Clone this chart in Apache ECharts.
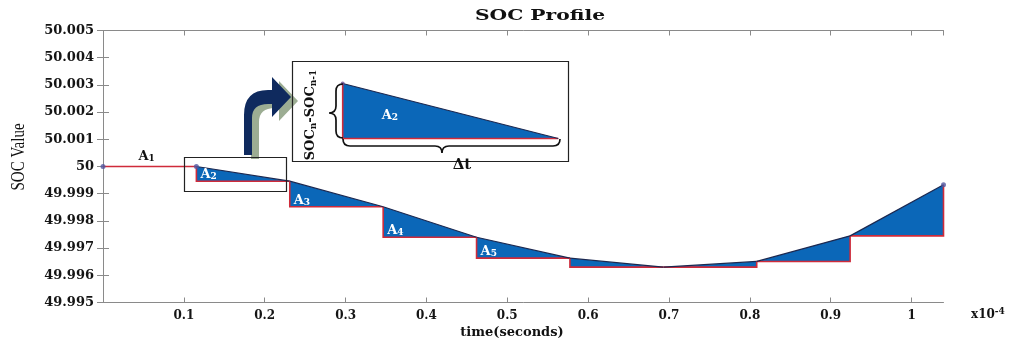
<!DOCTYPE html>
<html>
<head>
<meta charset="utf-8">
<script src="https://cdn.jsdelivr.net/npm/echarts@6/dist/echarts.min.js"></script>
<style>
  html, body { margin: 0; padding: 0; background: #ffffff; }
  #chart { width: 1016px; height: 344px; }
</style>
</head>
<body>
<div id="chart"></div>
<script>
// ---- data (time in units of 1e-4 s) ----
const timeKnots = [0, 0.1155, 0.231, 0.3465, 0.462, 0.5775, 0.693, 0.8085, 0.924, 1.0395];
const socValues = [50, 50, 49.99946, 49.99852, 49.9974, 49.99663, 49.9963, 49.99651, 49.99745, 49.99933];
const areaLabels = ['1', '2', '3', '4', '5'];   // A1..A5 subscripts
const insetSegment = 1;                          // segment magnified in the inset (A2)

// ---- styling ----
const BLUE = '#0b67b8';
const RED = '#cf2b3a';
const NAVY = '#1c2850';
const AXIS = '#8a8a8a';
const SERIF_B = 'DejaVu Serif';

const segments = timeKnots.slice(0, -1).map((t, i) => [t, socValues[i], timeKnots[i + 1], socValues[i + 1], i]);

function makeRender(inset) {
  return function (params, api) {
    const t0 = api.value(0), y0 = api.value(1), t1 = api.value(2), y1 = api.value(3);
    const idx = api.value(4);
    const L = Math.min(y0, y1);
    const a = api.coord([t0, y0]), b = api.coord([t1, y1]);
    const c = api.coord([t1, L]), d = api.coord([t0, L]);
    const children = [];
    if (y0 !== y1) {
      children.push({ type: 'polygon', shape: { points: [a, b, c, d] }, style: { fill: BLUE } });
    }
    let step;
    if (y0 > y1) step = [a, d, c];
    else if (y1 > y0) step = [d, c, b];
    else step = [a, b];
    children.push({ type: 'polyline', shape: { points: step }, style: { stroke: RED, lineWidth: 1.6, fill: null } });
    if (y0 !== y1) {
      children.push({ type: 'line', shape: { x1: a[0], y1: a[1], x2: b[0], y2: b[1] }, style: { stroke: NAVY, lineWidth: 1.2 } });
    }
    if (idx < areaLabels.length) {
      let x, y, color, align;
      if (inset) { x = d[0] + 39; y = d[1] - 23; color = '#ffffff'; align = 'left'; }
      else if (y0 === y1) { x = (a[0] + b[0]) / 2 - 3; y = d[1] - 10; color = '#111111'; align = 'center'; }
      else { x = d[0] + 4; y = d[1] - 6.5; color = '#ffffff'; align = 'left'; }
      children.push({
        type: 'text', x: x, y: y,
        style: {
          text: '{a|A}{s|' + areaLabels[idx] + '}',
          align: align, verticalAlign: 'middle',
          fill: color,
          rich: {
            a: { fontFamily: SERIF_B, fontWeight: 'bold', fontSize: 13, fill: color, color: color },
            s: { fontFamily: SERIF_B, fontWeight: 'bold', fontSize: 9, fill: color, color: color, padding: [4, 0, 0, 0] }
          }
        }
      });
    }
    return { type: 'group', children: children };
  };
}

// annotation shapes (pixel space): curved arrow and braces
const ARROW_PATH = 'M244,155 L244,115 Q244,90 268,90 L272,90 L272,77 L291,97 L272,117 L272,104 L268,104 Q252,104 252,118 L252,155 Z';
function renderAnnotations() {
  return {
    type: 'group',
    children: [
      { type: 'path', x: 7, y: 4, shape: { pathData: ARROW_PATH }, style: { fill: '#9cad93' } },
      { type: 'path', shape: { pathData: ARROW_PATH }, style: { fill: '#0f2a5e' } },
      { type: 'path', shape: { pathData: 'M343,84 Q336,84 336,91 L336,106 Q336,113 329,113 Q336,113 336,120 L336,131 Q336,138 343,138' },
        style: { fill: null, stroke: '#111', lineWidth: 1.7 } },
      { type: 'path', shape: { pathData: 'M343,139 Q343,146 350,146 L435,146 Q442,146 442,153 Q442,146 449,146 L553,146 Q560,146 560,139' },
        style: { fill: null, stroke: '#111', lineWidth: 1.7 } }
    ]
  };
}

const yFmt = v => parseFloat(v.toFixed(3)).toString();
const xFmt = v => {
  const r = Math.round(v * 10) / 10;
  if (Math.abs(v - r) > 1e-9 || r < 0.05) return '';
  return parseFloat(r.toFixed(1)).toString();
};

const labelStyle = { fontFamily: SERIF_B, fontWeight: 'bold', fontSize: 12, color: '#151515' };

const chart = echarts.init(document.getElementById('chart'), null, { renderer: 'canvas' });

const option = {
  backgroundColor: '#ffffff',
  animation: false,
  grid: [
    { left: 103, top: 30.5, width: 840.5, height: 272, containLabel: false },
    { left: 342.7, top: 83.5, width: 215.6, height: 55, containLabel: false }
  ],
  xAxis: [
    {
      type: 'value', gridIndex: 0, position: 'bottom', min: 0, max: timeKnots[timeKnots.length - 1], interval: 0.1,
      axisLine: { show: true, lineStyle: { color: AXIS, width: 1 } },
      axisTick: { show: true, inside: true, length: 5, lineStyle: { color: AXIS } },
      axisLabel: Object.assign({ formatter: xFmt, margin: 7, showMaxLabel: false }, labelStyle),
      splitLine: { show: false }
    },
    {
      type: 'value', gridIndex: 0, position: 'top', min: 0, max: timeKnots[timeKnots.length - 1], interval: 0.1,
      axisLine: { show: true, lineStyle: { color: AXIS, width: 1 } },
      axisTick: { show: true, inside: true, length: 5, lineStyle: { color: AXIS } },
      axisLabel: { show: false },
      splitLine: { show: false }
    },
    {
      type: 'value', gridIndex: 1, min: timeKnots[insetSegment], max: timeKnots[insetSegment + 1], show: false
    }
  ],
  yAxis: [
    {
      type: 'value', gridIndex: 0, position: 'left', min: 49.995, max: 50.005, interval: 0.001,
      axisLine: { show: true, lineStyle: { color: AXIS, width: 1 } },
      axisTick: { show: true, inside: true, length: 6, lineStyle: { color: AXIS } },
      axisLabel: Object.assign({ formatter: yFmt, margin: 9 }, labelStyle, { fontSize: 13 }),
      splitLine: { show: false }
    },
    {
      type: 'value', gridIndex: 0, position: 'right', min: 49.995, max: 50.005, interval: 0.001,
      axisLine: { show: true, lineStyle: { color: AXIS, width: 1 } },
      axisTick: { show: true, inside: true, length: 6, lineStyle: { color: AXIS } },
      axisLabel: { show: false },
      splitLine: { show: false }
    },
    {
      type: 'value', gridIndex: 1, min: socValues[insetSegment + 1], max: socValues[insetSegment], show: false
    }
  ],
  series: [
    {
      type: 'custom', name: 'SOC', xAxisIndex: 0, yAxisIndex: 0,
      renderItem: makeRender(false),
      encode: { x: [0, 2], y: [1, 3] },
      data: segments, z: 3
    },
    {
      type: 'scatter', xAxisIndex: 0, yAxisIndex: 0, symbol: 'circle', symbolSize: 5,
      itemStyle: { color: '#5258a0' },
      data: [0, 1, timeKnots.length - 1].map(i => [timeKnots[i], socValues[i]]),
      z: 4
    },
    {
      type: 'custom', name: 'inset', xAxisIndex: 2, yAxisIndex: 2,
      renderItem: makeRender(true),
      encode: { x: [0, 2], y: [1, 3] },
      data: [segments[insetSegment]], z: 3
    },
    {
      type: 'scatter', xAxisIndex: 2, yAxisIndex: 2, symbol: 'circle', symbolSize: 4,
      itemStyle: { color: '#6a4a90' },
      data: [[timeKnots[insetSegment], socValues[insetSegment]]],
      z: 4
    },
    {
      type: 'custom', name: 'annotations', xAxisIndex: 0, yAxisIndex: 0,
      renderItem: renderAnnotations, clip: false,
      data: [[0, 50]], z: 10, silent: true
    }
  ],
  graphic: [
    {
      type: 'text', x: 540, y: 16, scaleX: 1.35, z: 100,
      style: { text: 'SOC Profile', font: 'bold 15px "DejaVu Serif"', fill: '#111', align: 'center', verticalAlign: 'middle', textAlign: 'center', textVerticalAlign: 'middle' }
    },
    {
      type: 'text', x: 512, y: 333, z: 100,
      style: { text: 'time(seconds)', font: 'bold 13px "DejaVu Serif"', fill: '#111', align: 'center', verticalAlign: 'middle', textAlign: 'center', textVerticalAlign: 'middle' }
    },
    {
      type: 'text', x: 971, y: 315, z: 100,
      style: {
        text: '{b|x10}{p|-4}', align: 'left', verticalAlign: 'middle', textAlign: 'left', textVerticalAlign: 'middle',
        rich: {
          b: { fontFamily: SERIF_B, fontWeight: 'bold', fontSize: 12, fill: '#111', color: '#111' },
          p: { fontFamily: SERIF_B, fontWeight: 'bold', fontSize: 9, fill: '#111', color: '#111', padding: [0, 0, 7, 0] }
        }
      }
    },
    {
      type: 'text', x: 19, y: 157, rotation: Math.PI / 2, scaleY: 1.3, z: 100,
      style: { text: 'SOC Value', font: '15px "Liberation Serif"', fill: '#111', align: 'center', verticalAlign: 'middle', textAlign: 'center', textVerticalAlign: 'middle' }
    },
    {
      type: 'rect', z: 100, shape: { x: 184.5, y: 157.5, width: 102, height: 34 },
      style: { fill: null, stroke: '#222', lineWidth: 1.2 }
    },
    {
      type: 'rect', z: 100, shape: { x: 292.5, y: 61.5, width: 276, height: 100 },
      style: { fill: null, stroke: '#222', lineWidth: 1.2 }
    },
    {
      type: 'text', x: 462, y: 165, z: 101,
      style: { text: 'Δt', font: 'bold 15px "DejaVu Serif"', fill: '#111', align: 'center', verticalAlign: 'middle', textAlign: 'center', textVerticalAlign: 'middle' }
    },
    {
      type: 'text', x: 311, y: 115, rotation: Math.PI / 2, z: 100,
      style: {
        text: '{b|SOC}{s|n}{b|-SOC}{s|n-1}', align: 'center', verticalAlign: 'middle', textAlign: 'center', textVerticalAlign: 'middle',
        rich: {
          b: { fontFamily: SERIF_B, fontWeight: 'bold', fontSize: 13, fill: '#111', color: '#111' },
          s: { fontFamily: SERIF_B, fontWeight: 'bold', fontSize: 9, fill: '#111', color: '#111', padding: [5, 0, 0, 0] }
        }
      }
    }
  ]
};

chart.setOption(option);
</script>
</body>
</html>
